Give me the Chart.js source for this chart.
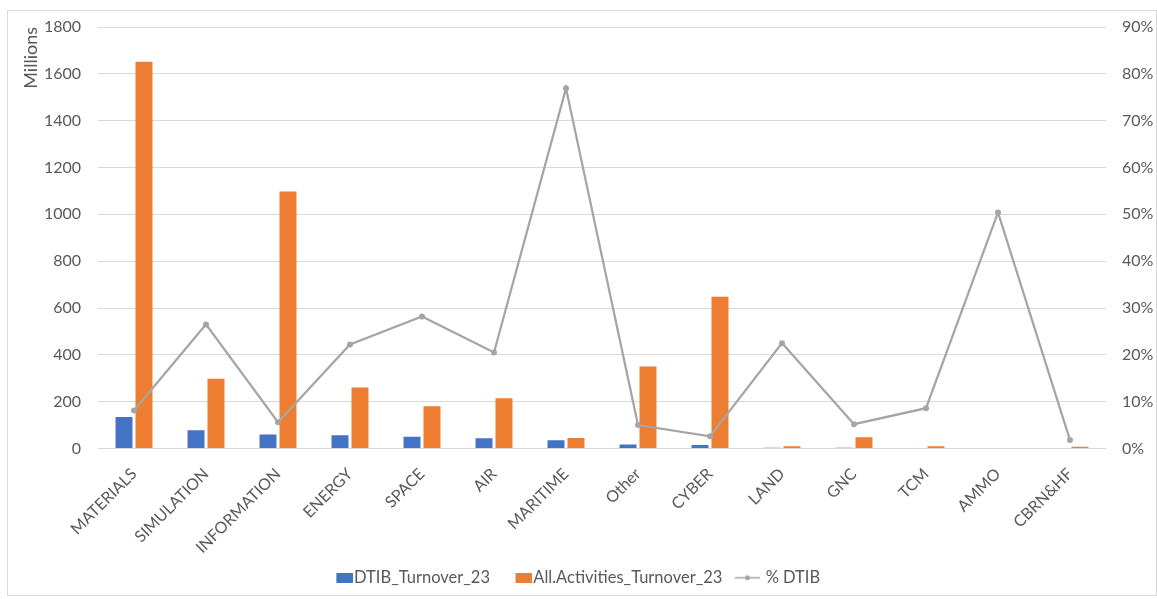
<!DOCTYPE html>
<html>
<head>
<meta charset="utf-8">
<script src="https://cdn.jsdelivr.net/npm/chart.js@4"></script>
<style>
  html, body { margin: 0; padding: 0; background: #fff; }
  #frame { position: absolute; left: 7px; top: 10px; width: 1150px; height: 586px; border: 1px solid #d9d9d9; box-sizing: border-box; }
  #wrap { position: absolute; left: 0; top: 0; width: 1157px; height: 599px; }
</style>
</head>
<body>
<div id="frame"></div>
<div id="wrap"><canvas id="turnoverChart"></canvas></div>
<script>
const categories = ['MATERIALS', 'SIMULATION', 'INFORMATION', 'ENERGY', 'SPACE', 'AIR', 'MARITIME', 'Other', 'CYBER', 'LAND', 'GNC', 'TCM', 'AMMO', 'CBRN&HF'];
const dtibTurnover = [135, 78, 60, 57, 50, 44, 35, 17, 15, 3, 3, 0, 0, 0];
const allTurnover = [1652, 298, 1098, 261, 180, 215, 45, 350, 648, 10, 48, 10, 0, 8];
const dtibShare = [8.1, 26.5, 5.6, 22.2, 28.2, 20.5, 76.9, 5.0, 2.6, 22.5, 5.2, 8.6, 50.4, 1.8];

const gray = '#595959';
const blue = '#4472C4';
const orange = '#ED7D31';
const lineGray = '#A5A5A5';
const fontFamily = 'Lato, "Open Sans", sans-serif';
const tickFont = { family: fontFamily, size: 16 };

// legend samples: a box hugging the text, or a short line with a dot
function boxSample(color) {
  const c = document.createElement('canvas');
  c.width = 40; c.height = 10;
  const g = c.getContext('2d');
  g.fillStyle = color;
  g.fillRect(23, 0, 17, 10);
  return c;
}
function lineSample(color) {
  const c = document.createElement('canvas');
  c.width = 40; c.height = 10;
  const g = c.getContext('2d');
  g.strokeStyle = color;
  g.lineWidth = 1.5;
  g.beginPath();
  g.moveTo(10, 5);
  g.lineTo(35, 5);
  g.stroke();
  g.fillStyle = color;
  g.beginPath();
  g.arc(22.5, 5, 2.5, 0, Math.PI * 2);
  g.fill();
  return c;
}

// nudge the legend row a bit to the left
const legendShift = {
  id: 'legendShift',
  afterLayout(chart) {
    const lg = chart.legend;
    if (!lg) return;
    lg.left -= 18;
    lg.right -= 18;
  }
};

document.addEventListener('DOMContentLoaded', function () {
  const ctx = document.getElementById('turnoverChart').getContext('2d');
  const samples = [boxSample(blue), boxSample(orange), lineSample(lineGray)];

  new Chart(ctx, {
    data: {
      labels: categories,
      datasets: [
        {
          type: 'line',
          label: '% DTIB',
          data: dtibShare,
          yAxisID: 'yPct',
          borderColor: lineGray,
          backgroundColor: lineGray,
          borderWidth: 2.25,
          pointRadius: 3,
          pointBorderWidth: 0,
          tension: 0,
          order: 0
        },
        {
          type: 'bar',
          label: 'DTIB_Turnover_23',
          data: dtibTurnover,
          yAxisID: 'y',
          backgroundColor: blue,
          categoryPercentage: 0.555,
          barPercentage: 0.85,
          order: 1
        },
        {
          type: 'bar',
          label: 'All.Activities_Turnover_23',
          data: allTurnover,
          yAxisID: 'y',
          backgroundColor: orange,
          categoryPercentage: 0.555,
          barPercentage: 0.85,
          order: 1
        }
      ]
    },
    options: {
      responsive: true,
      maintainAspectRatio: false,
      animation: false,
      layout: { padding: { left: 20, right: 0, top: 27, bottom: 3 } },
      scales: {
        x: {
          grid: { display: false },
          border: { display: false },
          ticks: { color: gray, font: tickFont, minRotation: 45, maxRotation: 45, autoSkip: false, padding: 8 },
          afterFit(scale) { scale.height = 111; }
        },
        y: {
          position: 'left',
          min: 0,
          max: 1800,
          ticks: { stepSize: 200, color: gray, font: tickFont, padding: 17, callback: v => String(v) },
          grid: { color: '#d9d9d9', lineWidth: 1, drawTicks: false },
          border: { display: false },
          title: { display: true, text: 'Millions', align: 'end', color: gray, font: { family: fontFamily, size: 18 }, padding: 0 },
          afterFit(scale) { scale.width = 78; }
        },
        yPct: {
          position: 'right',
          min: 0,
          max: 90,
          ticks: { stepSize: 10, color: gray, font: tickFont, padding: 16, callback: v => v + '%' },
          grid: { display: false, drawTicks: false },
          border: { display: false },
          afterFit(scale) { scale.width = 51; }
        }
      },
      plugins: {
        legend: {
          position: 'bottom',
          labels: {
            color: gray,
            font: { family: fontFamily, size: 16.5 },
            usePointStyle: true,
            pointStyleWidth: 25,
            boxHeight: 10,
            padding: 10,
            generateLabels(chart) {
              const order = [1, 2, 0];
              return order.map((i, k) => ({
                text: chart.data.datasets[i].label,
                pointStyle: samples[k],
                fillStyle: chart.data.datasets[i].backgroundColor,
                strokeStyle: chart.data.datasets[i].backgroundColor,
                lineWidth: 0,
                fontColor: gray,
                datasetIndex: i,
                hidden: false
              }));
            }
          }
        },
        tooltip: { enabled: false }
      }
    },
    plugins: [legendShift]
  });
});
</script>
</body>
</html>
